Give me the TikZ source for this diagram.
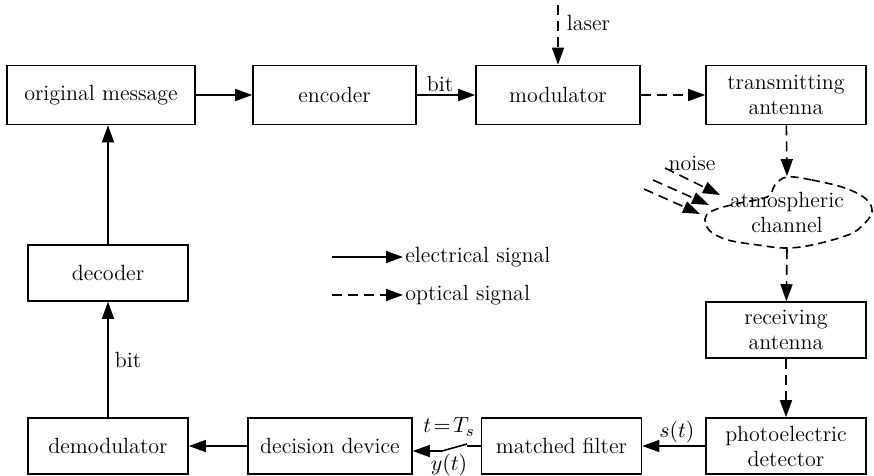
\documentclass[tikz,border=0pt]{standalone}
\usetikzlibrary{arrows.meta}

\begin{document}
\begin{tikzpicture}[x=0.5pt, y=-0.5pt,
    every node/.style = {align=center, font=\fontsize{11}{12.5}\selectfont},
    blockn/.style     = {draw, thick, minimum width=80pt, minimum height=29.5pt,
                         inner sep=2pt},
    lowblockn/.style  = {blockn, minimum height=28pt},
    elabel/.style     = {inner sep=1pt},
    elec/.style       = {thick, -{Triangle[length=8.5pt, width=6pt]}},
    opt/.style        = {elec, dash pattern=on 5pt off 3pt}]

    \useasboundingbox (0,0) rectangle (874,476);

    % Top row
    \node[blockn, minimum width=94pt] (msg) at (101, 95) {original message};
    \node[blockn, minimum width=81.5pt] (enc) at (334.5, 95) {encoder};
    \node[blockn, minimum width=82pt] (mod) at (558, 95) {modulator};
    \node[blockn] (tx)  at (786, 95) {transmitting\\antenna};

    % Channel
    \node[minimum width=83pt, minimum height=36pt, inner sep=0pt]
        (chan) at (787, 212.5) {atmospheric\\channel};
    \draw[thick, dash pattern=on 4pt off 2.5pt] plot[smooth cycle, tension=0.6]
        coordinates {(787,177) (812,180) (845,188) (866,199) (872,212)
                     (863,225) (848,235) (812,245) (785,248) (758,245)
                     (728,240) (710,231) (705,219) (712,211) (735,204)
                     (767,197) (775,185)};

    % Right column
    \node[lowblockn] (rx)  at (786, 330) {receiving\\antenna};
    \node[lowblockn] (det) at (786, 446) {photoelectric\\detector};

    % Bottom row
    \node[lowblockn, minimum width=80pt] (mf)  at (561.5, 446) {matched filter};
    \node[lowblockn, minimum width=82pt] (dec) at (330, 446) {decision device};
    \node[lowblockn] (dem) at (108, 446) {demodulator};
    \node[lowblockn] (dcd) at (108, 273) {decoder};

    % Switch and free ends
    \coordinate (sw1) at (467, 446);
    \coordinate (sw2) at (442, 451);
    \coordinate (las) at (558, 5);
    \coordinate (nz1) at (665, 168);
    \coordinate (nz2) at (653, 180);
    \coordinate (nz3) at (644, 189);
    \coordinate (nt1) at (720, 195);
    \coordinate (nt2) at (709, 205);
    \coordinate (nt3) at (700, 214);

    % Electrical signals
    \draw[elec] (msg) -- (enc);
    \draw[elec] (enc) -- (mod) node[elabel, pos=0.4, above] {bit};
    \draw[elec] (det) -- (mf) node[elabel, pos=0.45, above] {$s(t)$};
    \draw[thick] (mf.west) -- (sw1);
    \draw[thick] (sw1) ++(0,-2) -- (sw2);
    \draw[elec] (sw2) -- (sw2 -| dec.east);
    \node[elabel] (tts) at (449, 427) {$t\!=\!T_s$};
    \node[elabel] (yt)  at (449, 465) {$y(t)$};
    \draw[elec] (dec) -- (dem);
    \draw[elec] (dem) -- (dcd) node[elabel, midway, right=2pt] {bit};
    \draw[elec] (dcd) -- (dcd |- msg.south);

    % Optical signals
    \draw[opt] (las) -- (mod.north) node[elabel, pos=0.3, right=3pt] {laser};
    \draw[opt] (mod) -- (tx);
    \draw[opt] (tx) -- (chan.north);
    \draw[opt] (chan.south) -- (rx);
    \draw[opt] (rx) -- (det);
    \draw[opt] (nz1) -- (nt1);
    \draw[opt] (nz2) -- (nt2);
    \draw[opt] (nz3) -- (nt3);
    \node[elabel] (nzl) at (692, 163) {noise};

    % Legend
    \coordinate (lg1) at (332, 257);
    \coordinate (lg2) at (332, 295);
    \node[elabel, right] (lgt1) at (403, 257) {electrical signal};
    \node[elabel, right] (lgt2) at (403, 295) {optical signal};
    \draw[elec] (lg1) -- (lgt1.west);
    \draw[opt]  (lg2) -- (lgt2.west);
\end{tikzpicture}
\end{document}
